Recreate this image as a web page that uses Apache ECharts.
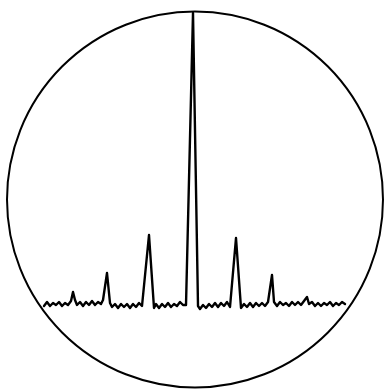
<!DOCTYPE html>
<html>
<head>
<meta charset="utf-8">
<script src="https://cdn.jsdelivr.net/npm/echarts@6/dist/echarts.min.js"></script>
<style>
  html, body { margin: 0; padding: 0; background: #fff; }
  #chart { width: 386px; height: 389px; }
</style>
</head>
<body>
<div id="chart"></div>
<script>
// trace: offset from centre line, amplitude above floor
const offsets = [
  -149, -146, -143, -140, -137, -134, -131, -128, -125, -122,
  -120, -118, -116, -113, -110, -107, -104, -101, -98, -95,
  -92, -90, -86, -83, -81, -78, -75, -72, -69, -66,
  -63, -60, -57, -54, -51, -49, -44, -39, -37, -34,
  -31, -28, -25, -22, -19, -16, -13, -10, -7, 0,
  5, 7, 10, 13, 16, 19, 22, 25, 28, 31,
  34, 37, 43, 48, 51, 54, 57, 60, 63, 66,
  69, 72, 75, 77, 79, 81, 84, 87, 90, 93,
  96, 99, 102, 105, 108, 111, 114, 116, 119, 122,
  125, 128, 131, 134, 137, 140, 143, 146, 149, 152
]
const amplitudes = [
  4, 8, 4, 7, 5, 8, 4, 7, 5, 9,
  18, 10, 5, 8, 4, 8, 5, 9, 5, 8,
  6, 10, 37, 7, 3, 6, 2, 6, 3, 6,
  2, 6, 3, 7, 4, 2, 75, 2, 6, 2,
  6, 3, 7, 3, 6, 4, 8, 5, 5, 297,
  4, 1, 5, 2, 6, 3, 7, 3, 7, 4,
  8, 3, 72, 2, 6, 3, 7, 3, 7, 4,
  7, 4, 8, 6, 35, 8, 4, 8, 5, 7,
  4, 8, 5, 8, 5, 9, 13, 6, 8, 4,
  7, 4, 7, 5, 8, 4, 7, 5, 8, 6
]

let points = []
for (let i = 0; i < offsets.length; i++) {
  points.push([offsets[i], amplitudes[i]])
}

const options = {
  animation: false,
  backgroundColor: '#fff',
  grid: { left: 43, right: 36, top: 12, bottom: 79 },
  xAxis: { type: 'value', min: -150, max: 157, show: false },
  yAxis: { type: 'value', min: 0, max: 298, show: false },
  graphic: [
    {
      type: 'circle',
      shape: { cx: 195, cy: 199.5, r: 188 },
      style: { fill: 'none', stroke: '#000', lineWidth: 2 },
      z: 10,
    },
  ],
  series: [
    {
      type: 'line',
      data: points,
      symbol: 'none',
      lineStyle: { color: '#000', width: 2.4, join: 'round', cap: 'round' },
    },
  ],
}

let chart = echarts.init(document.getElementById('chart'))
chart.setOption(options)
</script>
</body>
</html>
